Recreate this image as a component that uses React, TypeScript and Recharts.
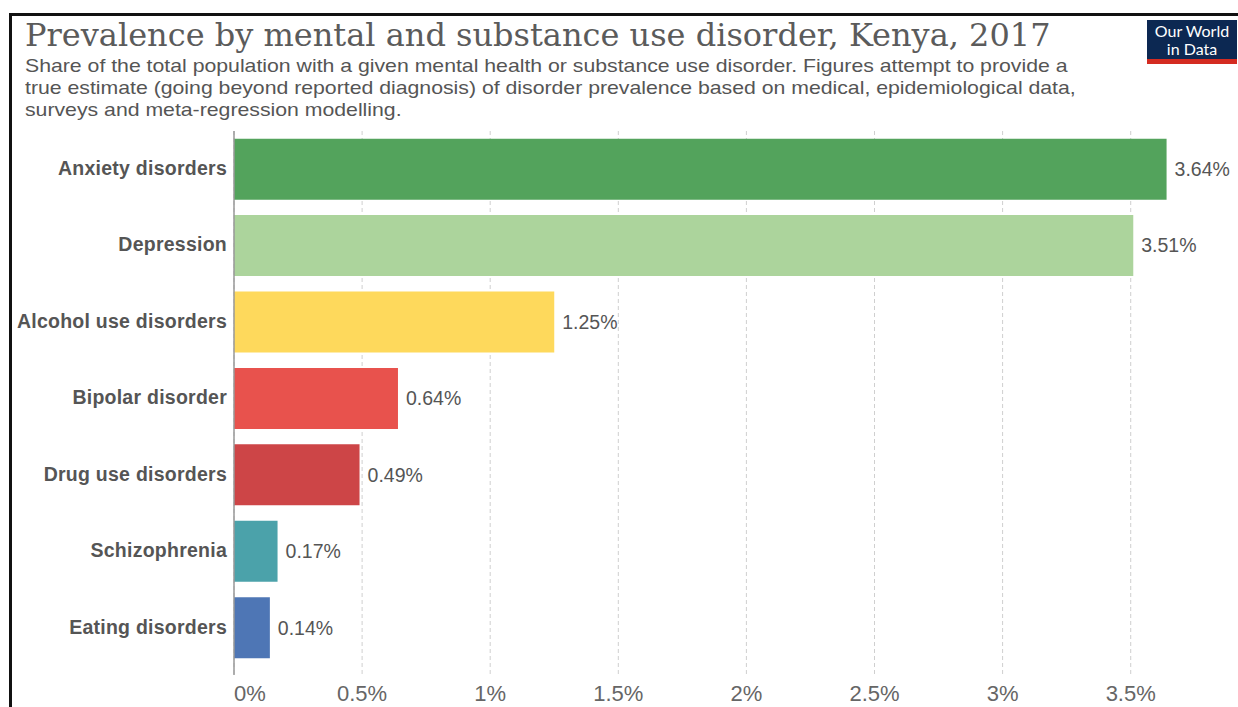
import { BarChart, Bar, XAxis, YAxis, CartesianGrid, Cell, LabelList } from "recharts"

const disorders = [
  "Anxiety disorders",
  "Depression",
  "Alcohol use disorders",
  "Bipolar disorder",
  "Drug use disorders",
  "Schizophrenia",
  "Eating disorders",
]
const prevalence = [3.64, 3.51, 1.25, 0.64, 0.49, 0.17, 0.14]
const barColors = ["#53a35c", "#acd49c", "#fed95c", "#e8524d", "#cd4547", "#4ba2aa", "#4e76b5"]
const xTicks = [0, 0.5, 1, 1.5, 2, 2.5, 3, 3.5]

const sans = "'Liberation Sans', Arial, sans-serif"

const CatTick = (props: any) => {
  const { x, y, payload } = props
  return (
    <text
      x={x}
      y={y}
      dy="0.3em"
      textAnchor="end"
      fontFamily={sans}
      fontWeight={700}
      fontSize={19.5}
      letterSpacing={0.25}
      fill="#555"
    >
      {payload.value}
    </text>
  )
}

const PctTick = (props: any) => {
  const { x, y, payload } = props
  const first = payload.value === 0
  return (
    <text x={x} y={y} dy="0.35em" textAnchor={first ? "start" : "middle"} fontFamily={sans} fontSize={22} fill="#666">
      {payload.value}%
    </text>
  )
}

export default function App() {
  // table for recharts
  const data = disorders.map((name, i) => ({ name, value: prevalence[i], color: barColors[i] }))

  return (
    <div style={{ position: "absolute", left: 0, top: 0, width: 1238, height: 707, overflow: "hidden", background: "#fff" }}>
      <div
        style={{
          position: "absolute",
          left: 9,
          top: 13,
          width: 1260,
          height: 720,
          borderTop: "3px solid #111",
          borderLeft: "3px solid #111",
        }}
      />
      <div
        style={{
          position: "absolute",
          left: 25,
          top: 15,
          fontFamily: "'DejaVu Serif', Georgia, serif",
          fontSize: 32,
          color: "#5b5b5b",
          whiteSpace: "nowrap",
          lineHeight: "40px",
        }}
      >
        Prevalence by mental and substance use disorder, Kenya, 2017
      </div>
      <div
        style={{
          position: "absolute",
          left: 25,
          top: 55,
          fontFamily: sans,
          fontSize: 18.5,
          lineHeight: "22px",
          color: "#555",
          whiteSpace: "nowrap",
          transform: "scaleX(1.148)",
          transformOrigin: "0 0",
        }}
      >
        Share of the total population with a given mental health or substance use disorder. Figures attempt to provide a
        <br />
        true estimate (going beyond reported diagnosis) of disorder prevalence based on medical, epidemiological data,
        <br />
        surveys and meta-regression modelling.
      </div>
      <div
        style={{
          position: "absolute",
          left: 1147,
          top: 20,
          width: 90,
          height: 44,
          background: "#0c2852",
          borderBottom: "5px solid #d42b21",
          boxSizing: "border-box",
          color: "#fff",
          fontFamily: "Lato, sans-serif",
          fontSize: 16,
          lineHeight: "18px",
          textAlign: "center",
          paddingTop: 2,
        }}
      >
        Our World
        <br />
        in Data
      </div>
      {/* plot runs past the right edge so the grid's end line is clipped */}
      <div style={{ position: "absolute", left: 0, top: 0 }}>
        <BarChart
          width={1246}
          height={707}
          data={data}
          layout="vertical"
          margin={{ top: 131, right: 0, bottom: 0, left: 0 }}
          barCategoryGap="10%"
        >
          <CartesianGrid horizontal={false} stroke="#cfcfcf" strokeDasharray="4 3" />
          <XAxis
            type="number"
            domain={[0, 3.95]}
            ticks={xTicks}
            axisLine={false}
            tickLine={false}
            tickSize={0}
            tickMargin={18}
            height={32}
            tick={<PctTick />}
          />
          <YAxis
            type="category"
            dataKey="name"
            width={234}
            axisLine={{ stroke: "#999", strokeWidth: 1.5 }}
            tickLine={false}
            tickSize={0}
            tickMargin={7}
            padding={{ top: 0, bottom: 9 }}
            tick={<CatTick />}
          />
          <Bar dataKey="value" isAnimationActive={false}>
            {data.map((d, i) => (
              <Cell key={`cell-${i}`} fill={d.color} />
            ))}
            <LabelList
              dataKey="value"
              position="right"
              offset={8}
              formatter={(v: any) => `${Number(v).toFixed(2)}%`}
              style={{ fontFamily: sans, fontSize: 19.5, fill: "#555" }}
            />
          </Bar>
        </BarChart>
      </div>
    </div>
  )
}
